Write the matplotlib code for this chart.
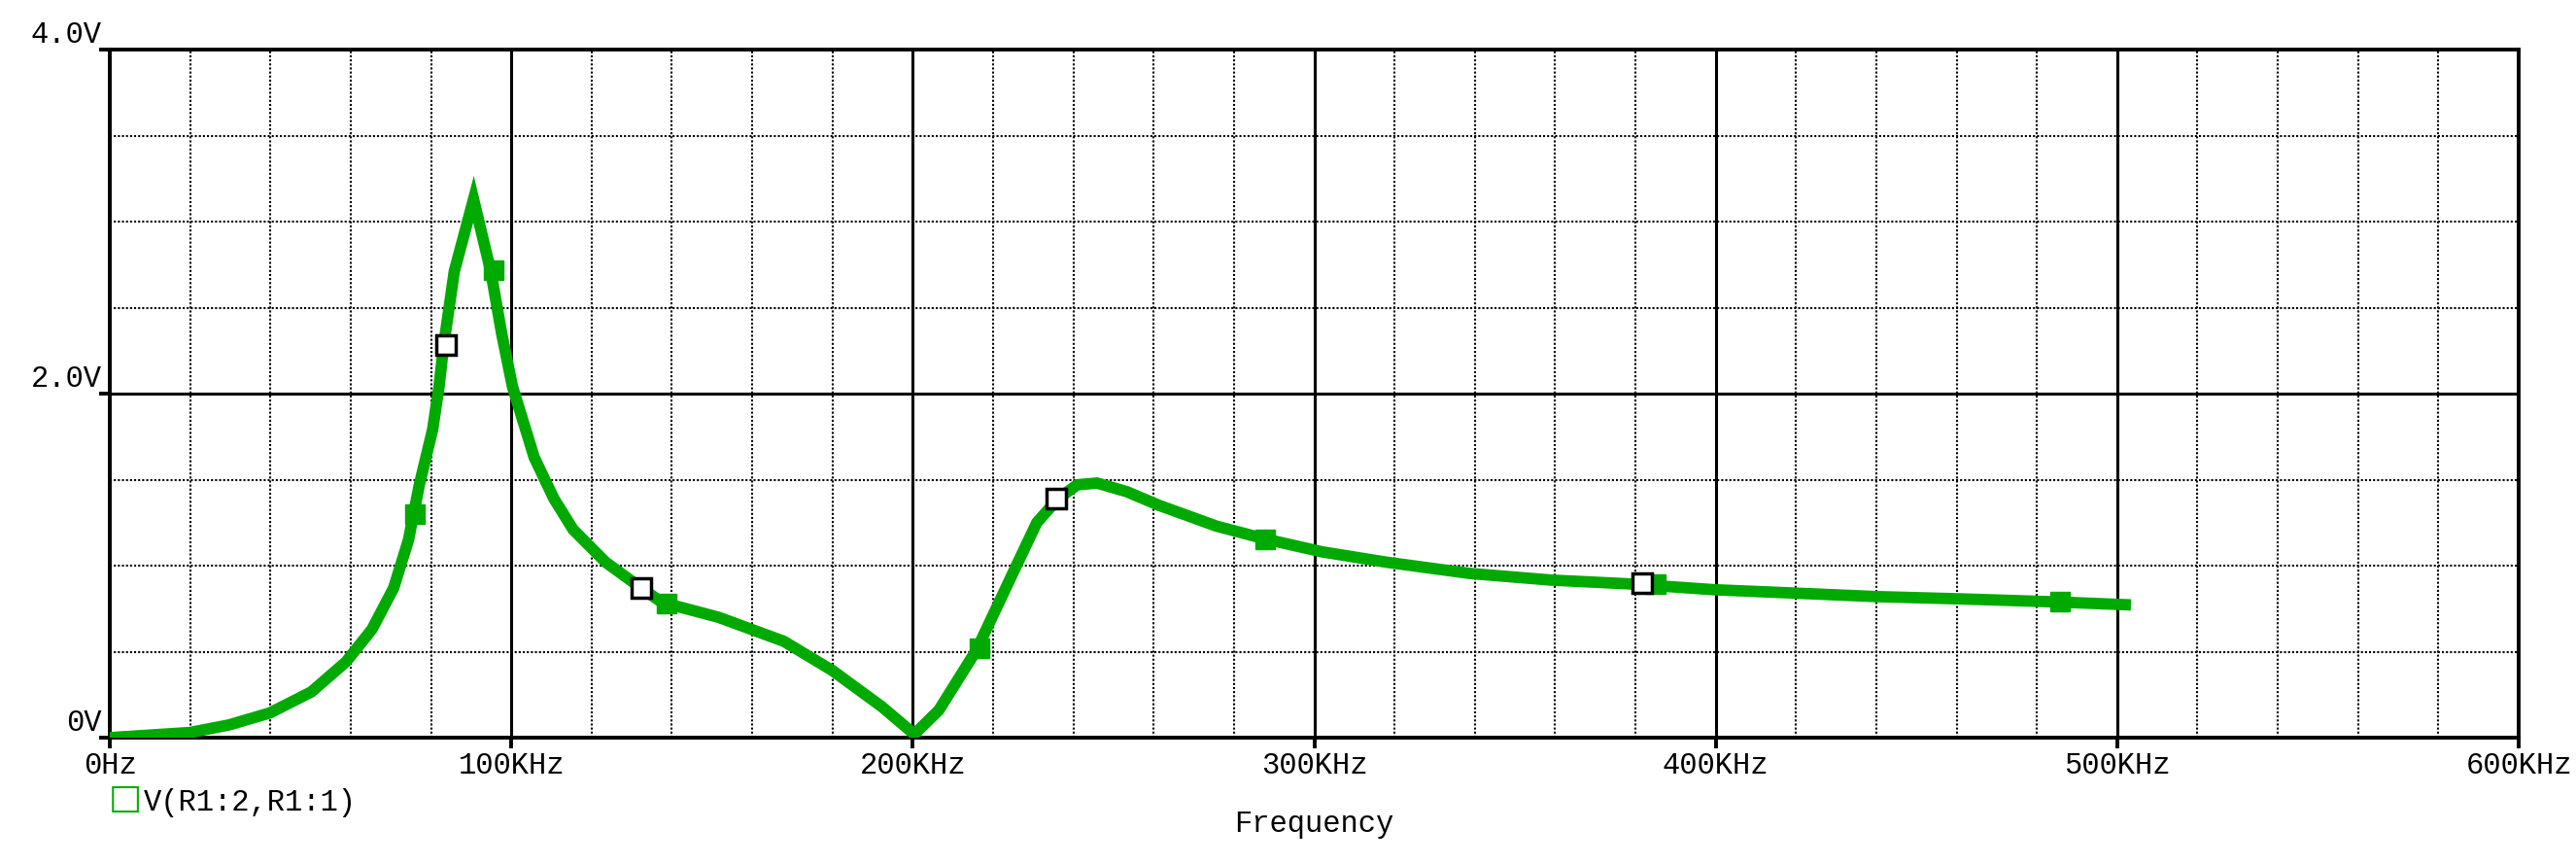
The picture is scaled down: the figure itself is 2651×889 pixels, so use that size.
import matplotlib
matplotlib.use("Agg")
import matplotlib.pyplot as plt
import numpy as np

freq_khz = [0, 20, 29.7, 39.9, 50.2, 58.8, 65.3, 70.7, 74.4, 77.1, 80.4, 82, 83.1, 85.8, 90.6,
            94.9, 97.6, 100.3, 105.7, 110.6, 115.4, 123.5, 132.7, 137.5, 151.6, 167.9, 180,
            192.3, 200.4, 206.5, 215.9, 224.8, 230.9, 236.2, 241, 245.9, 253.3, 261.4, 275.6,
            287.8, 302, 318, 338.6, 359, 379.3, 399.6, 420, 440, 460.6, 483.7, 502]
volts = [0, 0.03, 0.074, 0.144, 0.266, 0.44, 0.63, 0.87, 1.15, 1.47, 1.79, 2.04, 2.27, 2.71, 3.13,
         2.71, 2.35, 2.04, 1.63, 1.39, 1.21, 1.02, 0.864, 0.787, 0.70, 0.56, 0.39,
         0.18, 0.02, 0.16, 0.51, 0.95, 1.25, 1.39, 1.47, 1.48, 1.43, 1.35, 1.23,
         1.155, 1.08, 1.02, 0.955, 0.916, 0.893, 0.86, 0.84, 0.82, 0.807, 0.79, 0.773]
green_mk_f = [76, 95.5, 138.6, 216.7, 287.8, 385, 485.8]
green_mk_v = [1.30, 2.72, 0.78, 0.52, 1.15, 0.89, 0.79]
white_mk_f = [83.7, 132.5, 235.8, 381.7]
white_mk_v = [2.28, 0.87, 1.39, 0.90]
xticks_khz = [0, 100, 200, 300, 400, 500, 600]
xtick_labels = ["0Hz", "100KHz", "200KHz", "300KHz", "400KHz", "500KHz", "600KHz"]
yticks = [0, 2, 4]
ytick_labels = ["0V", "2.0V", "4.0V"]

font = "Liberation Mono"
green = "#00aa00"
fig = plt.figure(figsize=(26.51, 8.89), dpi=100)
ax = fig.add_axes([113/2651, 1-759/889, (2592-113)/2651, (759-51)/889])
ax.set_xlim(0, 600)
ax.set_ylim(0, 4)
for x in np.arange(20, 600, 20):
    if x % 100:
        ax.axvline(x, color="black", lw=1.5, ls=(0, (1, 1)), zorder=1)
for y in np.arange(0.5, 4, 0.5):
    if y % 2:
        ax.axhline(y, color="black", lw=1.5, ls=(0, (1, 1)), zorder=1)
for x in [100, 200, 300, 400, 500]:
    ax.axvline(x, color="black", lw=2.2, zorder=1)
ax.axhline(2, color="black", lw=2.2, zorder=1)
ax.plot(freq_khz, volts, color=green, lw=8.5, solid_joinstyle="miter", zorder=3)
ax.plot(green_mk_f, green_mk_v, ls="none", marker="s", ms=15, mfc=green, mec=green, zorder=4)
ax.plot(white_mk_f, white_mk_v, ls="none", marker="s", ms=15, mfc="white", mec="black", mew=2.5, zorder=4)
for s in ax.spines.values():
    s.set_linewidth(2.8)
ax.set_xticks(xticks_khz)
ax.set_xticklabels(xtick_labels, fontfamily=font, fontsize=22)
ax.set_yticks(yticks)
ax.set_yticklabels(ytick_labels, fontfamily=font, fontsize=22)
ax.tick_params(axis="x", length=8, width=2.8, direction="out", pad=2)
ax.tick_params(axis="y", length=8, width=2.8, direction="out", pad=-2)
for lbl in ax.get_yticklabels():
    lbl.set_verticalalignment("bottom")
ax.set_xlabel("Frequency", fontfamily=font, fontsize=22, labelpad=22)
fig.text(112/2651, 1-822/889, "\u25A1", color=green, fontsize=26, fontfamily="DejaVu Sans", va="center")
fig.text(148/2651, 1-826/889, "V(R1:2,R1:1)", color="black", fontsize=22, fontfamily=font, va="center")
fig.savefig("out.png", dpi=100)
